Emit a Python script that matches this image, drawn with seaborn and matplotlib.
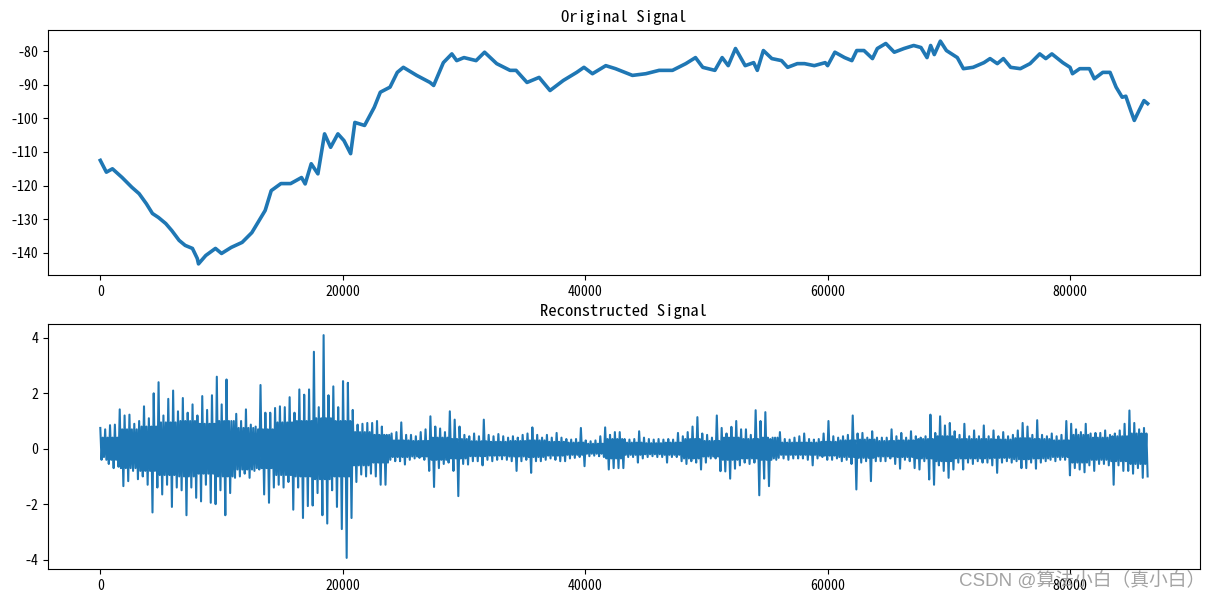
import numpy as np
import pandas as pd
import matplotlib
matplotlib.use("Agg")
import matplotlib.pyplot as plt
import seaborn as sns

# ---- Original signal ----
orig_x = [0, 500, 1000, 1800, 2600, 3200, 3800, 4300, 4800, 5400, 5900, 6500, 7000,
          7600, 8000, 8100, 8700, 9500, 10000, 10800, 11700, 12500, 13000, 13600, 14100,
          14900, 15700, 16600, 16900, 17400, 17950, 18500, 19000, 19600, 20100, 20650,
          21000, 21800, 22600, 23100, 23900, 24500, 25000, 26100, 27200, 27500, 28300,
          29000, 29400, 30000, 31000, 31700, 32700, 33800, 34300, 35200, 36200, 37100,
          38200, 39300, 39900, 40600, 41700, 42500, 43900, 45000, 46100, 47200, 48300,
          49100, 49700, 50700, 51300, 51800, 52400, 53200, 53900, 54200, 54700, 55400,
          56200, 56700, 57500, 58100, 58900, 59800, 60000, 60600, 61400, 62000, 62400,
          63000, 63700, 64100, 64800, 65500, 66300, 67100, 67700, 68200, 68500, 68800,
          69300, 69800, 70700, 71200, 72000, 72900, 73400, 74000, 74500, 75100, 75900,
          76700, 77500, 78000, 78500, 79400, 80000, 80200, 80800, 81600, 82000, 82700,
          83300, 83800, 84300, 84600, 85000, 85300, 85700, 86100, 86400]
orig_y = [-112.5, -116.0, -115.0, -117.6, -120.5, -122.4, -125.4, -128.3, -129.5, -131.3,
          -133.4, -136.3, -137.8, -138.7, -141.7, -143.3, -140.8, -138.7, -140.2, -138.4,
          -136.9, -134.0, -131.0, -127.4, -121.5, -119.4, -119.4, -117.6, -119.5, -113.5,
          -116.5, -104.6, -108.6, -104.6, -106.6, -110.5, -101.2, -102.1, -96.7, -92.2,
          -90.7, -86.3, -84.8, -87.2, -89.3, -90.2, -83.4, -80.8, -82.8, -81.9, -82.8,
          -80.3, -83.7, -85.7, -85.7, -89.3, -87.8, -91.7, -88.7, -86.3, -84.8, -86.7,
          -84.3, -85.2, -87.2, -86.7, -85.7, -85.7, -83.7, -81.9, -84.8, -85.7, -81.9,
          -84.3, -79.2, -84.3, -83.4, -85.7, -79.8, -82.2, -82.8, -84.8, -83.7, -83.7,
          -84.3, -83.4, -84.3, -80.3, -81.9, -82.8, -79.8, -79.8, -82.2, -79.2, -77.7,
          -80.3, -79.2, -78.3, -78.9, -81.9, -78.3, -81.0, -77.0, -79.8, -81.9, -85.2,
          -84.8, -83.4, -82.2, -83.7, -82.2, -84.8, -85.2, -83.7, -80.8, -82.2, -80.8,
          -83.4, -84.8, -86.7, -85.2, -85.2, -88.2, -86.3, -86.3, -90.7, -93.7, -93.4,
          -97.6, -100.6, -97.6, -94.7, -95.6]

# ---- Reconstructed signal: per-bin peaks and troughs (bins of 400 samples) ----
recon_high = [0.75, 0.7, 0.85, 0.87, 1.42, 1.2, 1.23, 0.9, 1.0, 1.53,
              1.1, 2.0, 2.4, 1.2, 1.8, 2.1, 1.35, 1.83, 1.3, 1.6,
              1.2, 1.9, 1.4, 1.93, 2.6, 1.6, 2.5, 1.0, 1.26, 1.0,
              1.42, 0.87, 0.8, 2.3, 1.3, 1.3, 1.47, 1.53, 1.5, 1.86,
              1.3, 2.14, 1.95, 2.14, 3.5, 1.5, 4.1, 1.93, 2.25, 1.5,
              2.44, 2.38, 1.4, 0.87, 0.9, 0.93, 0.93, 1.0, 0.8, 0.5,
              0.55, 0.6, 0.95, 0.5, 0.5, 0.45, 0.6, 0.7, 1.17, 0.8,
              0.73, 0.6, 1.35, 1.05, 0.8, 0.5, 0.45, 0.55, 0.45, 1.05,
              0.5, 0.45, 0.53, 0.45, 0.4, 0.45, 0.4, 0.5, 0.55, 0.77,
              0.5, 0.4, 0.5, 0.4, 0.57, 0.4, 0.35, 0.33, 0.35, 0.75,
              0.3, 0.27, 0.3, 0.45, 0.77, 0.5, 0.6, 0.6, 0.35, 0.33,
              0.35, 0.63, 0.4, 0.35, 0.33, 0.35, 0.33, 0.35, 0.33, 0.57,
              0.45, 0.6, 0.8, 1.14, 0.55, 0.5, 0.4, 1.2, 0.75, 0.55,
              0.79, 1.0, 0.7, 0.7, 0.5, 1.39, 1.0, 1.32, 0.35, 0.4,
              0.6, 0.35, 0.33, 0.4, 0.45, 0.55, 0.35, 0.33, 0.35, 0.55,
              1.0, 0.45, 0.4, 0.45, 0.5, 1.2, 0.55, 0.57, 0.4, 0.63,
              0.4, 0.4, 0.4, 0.7, 0.45, 0.57, 0.4, 0.63, 0.45, 0.4,
              0.45, 1.23, 0.57, 1.17, 0.84, 0.93, 0.63, 0.5, 0.9, 0.45,
              0.66, 0.45, 0.84, 0.45, 0.66, 0.45, 0.6, 0.45, 0.5, 0.66,
              0.93, 0.8, 0.5, 1.03, 0.5, 0.45, 0.55, 0.45, 0.5, 1.0,
              0.9, 0.7, 0.6, 0.9, 0.55, 0.57, 0.57, 0.66, 0.5, 0.55,
              0.66, 0.9, 1.38, 0.93, 0.7, 0.75]
recon_low = [-0.3, -0.55, -0.7, -0.65, -1.35, -1.17, -0.8, -1.1, -1.0, -1.3,
             -2.3, -1.4, -1.65, -1.3, -2.1, -1.4, -1.5, -2.4, -1.4, -1.77,
             -1.9, -1.3, -1.95, -2.0, -1.5, -2.4, -1.6, -1.05, -1.0, -0.9,
             -1.05, -0.8, -0.75, -1.65, -1.95, -1.4, -1.3, -1.4, -1.2, -2.2,
             -1.4, -2.5, -2.07, -2.05, -1.6, -2.4, -2.7, -1.5, -2.1, -2.9,
             -3.94, -2.5, -1.2, -0.93, -1.0, -0.9, -1.0, -1.3, -1.3, -0.4,
             -0.45, -0.45, -0.57, -0.4, -0.35, -0.33, -0.4, -0.8, -1.38, -0.7,
             -0.55, -0.5, -0.8, -1.71, -0.55, -0.57, -0.45, -0.45, -0.6, -0.4,
             -0.45, -0.4, -0.38, -0.4, -0.45, -0.8, -0.45, -0.4, -0.87, -0.45,
             -0.45, -0.4, -0.35, -0.4, -0.45, -0.45, -0.35, -0.33, -0.3, -0.63,
             -0.27, -0.25, -0.27, -0.3, -0.75, -0.7, -0.7, -0.7, -0.3, -0.3,
             -0.5, -0.35, -0.3, -0.27, -0.3, -0.3, -0.5, -0.3, -0.3, -0.45,
             -0.55, -0.45, -0.5, -0.75, -0.5, -0.35, -0.35, -0.81, -0.82, -1.08,
             -0.72, -0.6, -0.5, -0.55, -0.5, -1.68, -1.08, -1.35, -0.35, -0.33,
             -0.35, -0.4, -0.35, -0.35, -0.35, -0.4, -0.6, -0.35, -0.3, -0.4,
             -0.4, -0.35, -0.45, -0.4, -0.55, -1.47, -0.5, -0.45, -1.17, -0.45,
             -0.45, -0.45, -0.35, -0.55, -0.72, -0.4, -0.45, -0.7, -0.75, -0.45,
             -1.11, -1.3, -0.6, -0.8, -1.05, -0.75, -0.5, -0.75, -0.5, -0.55,
             -0.45, -0.5, -0.5, -0.6, -0.87, -0.5, -0.45, -0.5, -0.45, -0.7,
             -0.7, -0.5, -0.72, -0.5, -0.45, -0.4, -0.45, -0.4, -0.4, -0.96,
             -0.7, -0.75, -0.85, -0.6, -0.8, -0.55, -0.55, -0.6, -1.3, -0.6,
             -0.8, -0.8, -0.9, -0.7, -1.05, -1.0]
# half-width of the solid core band, one value per 1600 samples
recon_core = [0.4, 0.7, 0.8, 0.95, 1.0, 0.9, 1.0, 0.75, 0.7, 0.95,
              1.0, 1.1, 1.0, 0.6, 0.5, 0.3, 0.28, 0.4, 0.35, 0.27,
              0.25, 0.28, 0.3, 0.25, 0.22, 0.18, 0.35, 0.22, 0.2, 0.22,
              0.35, 0.28, 0.4, 0.35, 0.4, 0.22, 0.22, 0.25, 0.3, 0.33,
              0.28, 0.3, 0.35, 0.45, 0.35, 0.35, 0.33, 0.38, 0.35, 0.3,
              0.5, 0.4, 0.45, 0.55]

titles = ["Original Signal", "Reconstructed Signal"]
watermark = "CSDN @算法小白（真小白）"

plt.rcParams['font.family'] = ['Noto Sans Mono CJK SC', 'Noto Sans CJK SC', 'DejaVu Sans']
plt.rcParams['axes.unicode_minus'] = False

recon_vals = []
for i, (h, l) in enumerate(zip(recon_high, recon_low)):
    c = recon_core[i // 4]
    recon_vals += [h, -c, c, l]
recon_x = np.linspace(0, 86400, len(recon_vals))
df_orig = pd.DataFrame({"x": orig_x, "y": orig_y})
df_recon = pd.DataFrame({"x": recon_x, "y": recon_vals})

fig = plt.figure(figsize=(12.2, 6.01), dpi=100)
ax1 = fig.add_axes([0.0393, 0.5424, 0.9443, 0.4077])
ax2 = fig.add_axes([0.0393, 0.0532, 0.9443, 0.4077])

blue = "#1f77b4"
sns.lineplot(data=df_orig, x="x", y="y", ax=ax1, color=blue, linewidth=2.6,
             estimator=None, sort=False)
sns.lineplot(data=df_recon, x="x", y="y", ax=ax2, color=blue, linewidth=1.5,
             estimator=None, sort=False)

for ax, t in zip([ax1, ax2], titles):
    ax.set_title(t, fontsize=12)
    ax.set_xlabel("")
    ax.set_ylabel("")
    ax.tick_params(labelsize=10)

fig.text(0.988, 0.033, watermark, ha="right", va="center", fontsize=13.5,
         color="#999999", alpha=0.9, family=['Liberation Sans', 'Noto Sans CJK SC'])

fig.savefig("out.png", dpi=100)
